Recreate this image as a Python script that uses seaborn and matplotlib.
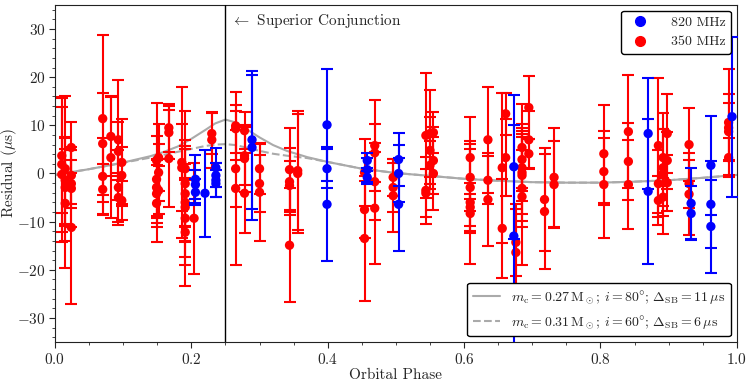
import numpy as np
import pandas as pd
import matplotlib
matplotlib.use("Agg")
import matplotlib.pyplot as plt
from matplotlib.ticker import MultipleLocator
import seaborn as sns

# style first, fonts after (set_style resets font.family)
sns.set_style("ticks")
plt.rcParams['font.family'] = 'serif'
plt.rcParams['font.serif'] = ['cmr10', 'DejaVu Serif']
plt.rcParams['mathtext.fontset'] = 'cm'
plt.rcParams['axes.formatter.use_mathtext'] = True
plt.rcParams['axes.unicode_minus'] = True
plt.rcParams['font.size'] = 11

# 350 MHz residuals (phase, residual in us, error in us)
red_phase = [0.010, 0.010, 0.010, 0.015, 0.015, 0.015, 0.015,
             0.024, 0.024, 0.024, 0.024, 0.024,
             0.070, 0.070, 0.070, 0.070, 0.082, 0.082,
             0.093, 0.093, 0.093, 0.093, 0.098, 0.098, 0.098,
             0.149, 0.149, 0.149, 0.149, 0.149, 0.152, 0.152, 0.152,
             0.167, 0.167, 0.167, 0.186, 0.186,
             0.191, 0.191, 0.191, 0.191, 0.191, 0.191, 0.191,
             0.204, 0.230, 0.230,
             0.265, 0.265, 0.265, 0.265, 0.278, 0.278, 0.278, 0.278,
             0.300, 0.300, 0.300, 0.344, 0.344, 0.344, 0.344, 0.356, 0.356,
             0.454, 0.454, 0.454, 0.469, 0.469, 0.469, 0.469,
             0.496, 0.496, 0.496,
             0.544, 0.544, 0.544, 0.550, 0.550, 0.550, 0.555, 0.555, 0.555,
             0.609, 0.609, 0.609, 0.609, 0.609, 0.609,
             0.635, 0.635, 0.635, 0.656, 0.656, 0.661, 0.661, 0.676, 0.676,
             0.685, 0.685, 0.685, 0.685, 0.685, 0.685, 0.685,
             0.695, 0.695, 0.695, 0.718, 0.718, 0.732, 0.732,
             0.805, 0.805, 0.805, 0.841, 0.841, 0.841,
             0.885, 0.885, 0.885, 0.892, 0.892, 0.892, 0.892,
             0.898, 0.898, 0.898, 0.930, 0.930, 0.930,
             0.988, 0.988, 0.988, 0.988]
red_resid = [3.7, 1.9, -0.2, 1.0, -1.4, -2.9, -6.2,
             5.4, -0.4, -2.1, -3.1, -11.2,
             11.4, 6.2, -0.6, -3.3, 7.7, 3.3,
             7.0, 4.6, -2.9, -5.0, 2.3, -0.4, -5.6,
             2.7, -1.2, -2.9, -4.2, -6.2, 3.3, 0.2, -3.5,
             9.5, 8.5, 3.1, 2.3, 1.2,
             1.0, -2.1, -4.2, -6.0, -7.0, -9.3, -12.2,
             -9.3, 8.3, 7.0,
             9.9, 9.3, 1.0, -3.1, 8.9, 3.7, 3.1, -4.1,
             1.0, -2.1, -3.9, 0.8, -1.7, -2.5, -14.9, 0.6, 0.0,
             0.2, -7.5, -13.5, 5.8, 4.3, -1.7, -7.2,
             -0.8, -2.9, -4.6,
             7.9, -3.5, -4.1, 8.3, 4.8, 1.7, 8.5, 2.7, 0.0,
             3.3, -0.8, -2.9, -6.0, -7.0, -8.3,
             7.0, -1.4, -5.4, 1.2, -11.4, 12.4, 3.3, -14.3, -16.4,
             5.4, 2.9, 1.2, 0.2, -0.4, -3.1, -4.8,
             13.7, 7.0, 4.1, -5.4, -7.9, -0.8, -2.3,
             4.1, 0.4, -2.3, 8.7, 2.5, -2.3,
             5.8, -2.1, -5.6, 3.3, 1.2, 0.0, -4.9,
             8.3, 2.7, -1.9, 6.0, -2.1, -4.3,
             10.6, 9.5, 8.7, 3.3]
red_err = [12.0, 14.0, 14.0, 15.0, 9.0, 8.0, 13.5,
           5.2, 6.0, 5.0, 8.0, 16.0,
           17.4, 10.6, 8.0, 5.2, 8.3, 12.6,
           12.5, 6.0, 7.7, 5.0, 9.0, 6.0, 4.0,
           12.0, 9.0, 6.0, 7.0, 8.0, 7.0, 6.0, 5.0,
           5.0, 5.5, 10.0, 15.7, 9.0,
           12.0, 9.0, 10.0, 8.0, 12.0, 8.0, 11.2,
           11.5, 4.3, 5.8,
           7.0, 5.0, 8.0, 16.0, 3.9, 6.0, 7.0, 8.3,
           5.2, 6.0, 10.2, 8.7, 7.0, 5.0, 11.8, 12.4, 12.4,
           7.0, 6.0, 13.0, 9.5, 6.0, 8.0, 11.6,
           3.9, 5.0, 7.6,
           13.0, 6.9, 5.0, 9.0, 7.0, 5.0, 4.3, 7.0, 7.5,
           8.5, 7.0, 8.0, 12.8, 5.0, 4.0,
           11.0, 5.0, 9.7, 15.6, 10.3, 4.4, 8.0, 7.0, 10.0,
           9.0, 6.0, 7.0, 10.0, 8.0, 8.0, 14.2,
           6.6, 6.0, 3.0, 10.6, 12.0, 10.3, 9.0,
           10.2, 7.0, 11.2, 11.8, 8.0, 9.3,
           14.0, 7.0, 5.0, 6.0, 8.0, 12.6, 4.0,
           8.2, 6.0, 5.8, 7.5, 5.0, 8.5,
           11.0, 7.0, 6.0, 4.0]

# 820 MHz residuals
blue_phase = [0.206, 0.206, 0.206, 0.220, 0.236, 0.236, 0.236, 0.236,
              0.289, 0.289, 0.399, 0.399, 0.399, 0.458, 0.458, 0.458,
              0.504, 0.504, 0.504, 0.673, 0.673, 0.870, 0.870,
              0.933, 0.933, 0.962, 0.962, 0.962, 0.993]
blue_resid = [-1.2, -2.3, -3.9, -4.1, 1.2, -0.4, -1.4, -2.1,
              7.0, 5.4, 10.1, 1.0, -6.4, 2.7, 0.8, -0.8,
              2.9, 0.0, -6.4, 1.4, -13.0, 8.3, -3.7,
              -6.2, -8.3, 1.7, -6.4, -11.0, 11.8]
blue_err = [5.0, 3.0, 2.7, 9.0, 4.0, 2.5, 3.5, 2.8,
            14.3, 15.0, 11.6, 4.0, 11.8, 1.5, 2.5, 1.3,
            5.6, 6.0, 9.6, 15.0, 23.0, 11.6, 15.1,
            7.4, 5.6, 10.3, 9.0, 9.7, 16.6]

# Shapiro delay model curves
curve_phase = [0.0, 0.02, 0.05, 0.08, 0.11, 0.14, 0.16, 0.18, 0.20, 0.22,
               0.235, 0.25, 0.265, 0.28, 0.30, 0.32, 0.34, 0.37, 0.40, 0.45,
               0.50, 0.55, 0.60, 0.65, 0.70, 0.75, 0.80, 0.85, 0.90, 0.95, 1.0]
curve_solid = [-0.3, 0.2, 0.9, 1.7, 2.6, 3.6, 4.5, 5.6, 7.2, 9.0,
               10.4, 11.2, 10.6, 9.3, 7.5, 5.9, 4.7, 3.4, 2.4, 1.0,
               0.1, -0.5, -1.1, -1.5, -1.8, -1.9, -1.9, -1.7, -1.4, -0.9, -0.3]
curve_dashed = [-0.3, 0.2, 0.9, 1.7, 2.5, 3.3, 3.9, 4.5, 5.1, 5.7,
                6.0, 6.1, 5.9, 5.4, 4.7, 4.1, 3.7, 3.2, 2.4, 1.0,
                0.1, -0.5, -1.1, -1.5, -1.8, -1.9, -1.9, -1.7, -1.4, -0.9, -0.3]

red_df = pd.DataFrame({'phase': red_phase, 'resid': red_resid, 'err': red_err})
blue_df = pd.DataFrame({'phase': blue_phase, 'resid': blue_resid, 'err': blue_err})
curve_df = pd.DataFrame({'phase': curve_phase, 'solid': curve_solid, 'dashed': curve_dashed})

fig, ax = plt.subplots(figsize=(7.48, 3.83), dpi=100)
fig.subplots_adjust(left=0.0735, right=0.985, top=0.987, bottom=0.107)

# model curves
sns.lineplot(data=curve_df, x='phase', y='solid', ax=ax, color='#aaaaaa', lw=1.5, zorder=1)
sns.lineplot(data=curve_df, x='phase', y='dashed', ax=ax, color='#aaaaaa', lw=1.5,
             linestyle='--', zorder=1)

# error bars + points
ax.errorbar(red_df['phase'], red_df['resid'], yerr=red_df['err'], fmt='none',
            ecolor='red', elinewidth=1.5, capsize=4, capthick=1.5, zorder=2)
sns.scatterplot(data=red_df, x='phase', y='resid', ax=ax, color='red', s=45,
                edgecolor='none', zorder=3)
ax.errorbar(blue_df['phase'], blue_df['resid'], yerr=blue_df['err'], fmt='none',
            ecolor='blue', elinewidth=1.5, capsize=4, capthick=1.5, zorder=4)
sns.scatterplot(data=blue_df, x='phase', y='resid', ax=ax, color='blue', s=45,
                edgecolor='none', zorder=5)

ax.axvline(0.25, color='black', lw=1, zorder=6)
ax.text(0.258, 31.7, r'$\leftarrow$ Superior Conjunction', fontsize=11, va='center', ha='left')

ax.set_xlim(0, 1)
ax.set_ylim(-35, 35)
ax.xaxis.set_major_locator(MultipleLocator(0.2))
ax.xaxis.set_minor_locator(MultipleLocator(0.05))
ax.yaxis.set_major_locator(MultipleLocator(10))
ax.yaxis.set_minor_locator(MultipleLocator(2))
ax.tick_params(which='both', top=False, right=False, direction='out')
ax.tick_params(which='major', length=4, pad=3)
ax.tick_params(which='minor', length=2)
for sp in ax.spines.values():
    sp.set_visible(True)
    sp.set_color('#222222')
ax.set_xlabel('Orbital Phase', labelpad=1)
ax.set_ylabel(r'Residual ($\mu$s)', labelpad=-2)

# legends
h820 = plt.Line2D([], [], marker='o', color='blue', ls='none', markersize=7, label='820 MHz')
h350 = plt.Line2D([], [], marker='o', color='red', ls='none', markersize=7, label='350 MHz')
leg1 = ax.legend(handles=[h820, h350], loc='upper right', fontsize=10, frameon=True,
                 edgecolor='black', framealpha=1, fancybox=True, handletextpad=1.2,
                 borderaxespad=0.4)
ax.add_artist(leg1)
hs = plt.Line2D([], [], color='#aaaaaa', lw=1.5,
                label=r'$m_{\rm c} = 0.27\,{\rm M}_\odot$; $i = 80\degree$; $\Delta_{\rm SB} = 11\,\mu{\rm s}$')
hd = plt.Line2D([], [], color='#aaaaaa', lw=1.5, ls='--',
                label=r'$m_{\rm c} = 0.31\,{\rm M}_\odot$; $i = 60\degree$; $\Delta_{\rm SB} = 6\,\mu{\rm s}$')
ax.legend(handles=[hs, hd], loc='lower right', fontsize=10, frameon=True,
          edgecolor='black', framealpha=1, fancybox=True, borderaxespad=0.4)

fig.savefig('out.png', dpi=100)
